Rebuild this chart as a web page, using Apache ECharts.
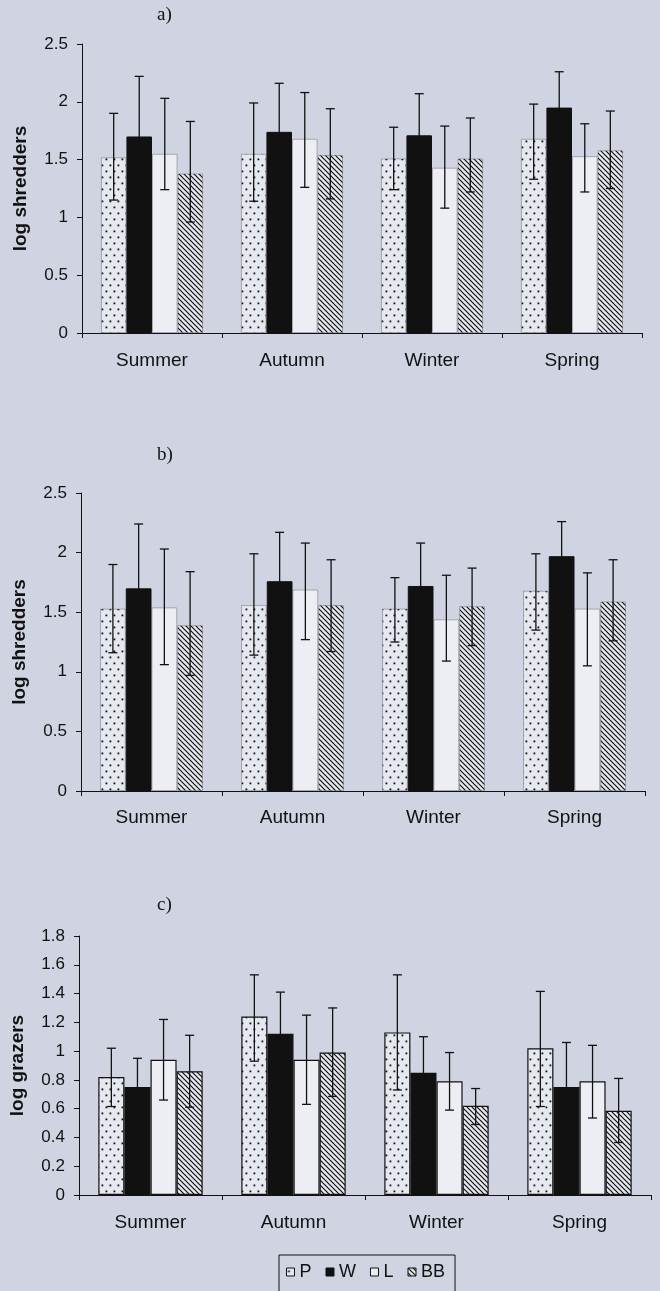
<!DOCTYPE html>
<html>
<head>
<meta charset="utf-8">
<script src="https://cdn.jsdelivr.net/npm/echarts@6/dist/echarts.min.js"></script>
<style>
html,body{margin:0;padding:0;background:#d0d4e2;}
#c{width:660px;height:1291px;}
</style>
</head>
<body>
<div id="c"></div>
<script>
// ---------- DATA ----------
const seasons = ['Summer', 'Autumn', 'Winter', 'Spring'];
const groups = ['P', 'W', 'L', 'BB'];
const panelTitles = ['a)', 'b)', 'c)'];
const yNames = ['log shredders', 'log shredders', 'log grazers'];

// panel a (log shredders)
const aP = [1.52, 1.55, 1.51, 1.68];
const aPHi = [1.90, 1.99, 1.78, 1.98];
const aPLo = [1.15, 1.14, 1.24, 1.33];
const aW = [1.70, 1.74, 1.71, 1.95];
const aWHi = [2.22, 2.16, 2.07, 2.26];
const aWLo = [1.18, 1.32, 1.35, 1.64];
const aL = [1.55, 1.68, 1.43, 1.53];
const aLHi = [2.03, 2.08, 1.79, 1.81];
const aLLo = [1.24, 1.26, 1.08, 1.22];
const aBB = [1.38, 1.54, 1.51, 1.58];
const aBBHi = [1.83, 1.94, 1.86, 1.92];
const aBBLo = [0.96, 1.16, 1.22, 1.25];

// panel b (log shredders)
const bP = [1.53, 1.56, 1.53, 1.68];
const bPHi = [1.90, 1.99, 1.79, 1.99];
const bPLo = [1.16, 1.14, 1.25, 1.35];
const bW = [1.70, 1.76, 1.72, 1.97];
const bWHi = [2.24, 2.17, 2.08, 2.26];
const bWLo = [1.16, 1.35, 1.36, 1.68];
const bL = [1.54, 1.69, 1.44, 1.53];
const bLHi = [2.03, 2.08, 1.81, 1.83];
const bLLo = [1.06, 1.27, 1.09, 1.05];
const bBB = [1.39, 1.56, 1.55, 1.59];
const bBBHi = [1.84, 1.94, 1.87, 1.94];
const bBBLo = [0.97, 1.17, 1.22, 1.26];

// panel c (log grazers)
const cP = [0.82, 1.24, 1.13, 1.02];
const cPHi = [1.02, 1.53, 1.53, 1.415];
const cPLo = [0.615, 0.93, 0.73, 0.615];
const cW = [0.75, 1.12, 0.85, 0.75];
const cWHi = [0.95, 1.41, 1.10, 1.06];
const cWLo = [0.55, 0.83, 0.60, 0.44];
const cL = [0.94, 0.94, 0.79, 0.79];
const cLHi = [1.22, 1.25, 0.99, 1.04];
const cLLo = [0.66, 0.63, 0.59, 0.535];
const cBB = [0.86, 0.99, 0.62, 0.585];
const cBBHi = [1.11, 1.30, 0.74, 0.81];
const cBBLo = [0.61, 0.685, 0.49, 0.365];

const yMax = [2.5, 2.5, 1.8];
const yStep = [0.5, 0.5, 0.2];

// ---------- STYLE / LAYOUT ----------
const BG = '#d0d4e2';
const INK = '#111111';
const GAP = 0.27;
const grids = [
  {left: 82, top: 44, width: 560, height: 289},
  {left: 81, top: 493, width: 564, height: 298},
  {left: 79, top: 936, width: 572, height: 259}
];

function dotPattern() {
  const cv = document.createElement('canvas');
  cv.width = 8; cv.height = 12;
  const g = cv.getContext('2d');
  g.fillStyle = '#e6e8ef'; g.fillRect(0, 0, 8, 12);
  g.fillStyle = '#111';
  g.fillRect(1.5, 2.5, 1.8, 1.8);
  g.fillRect(5.5, 8.5, 1.8, 1.8);
  return {image: cv, repeat: 'repeat'};
}
function hatchPattern() {
  const s = 5;
  const cv = document.createElement('canvas');
  cv.width = s; cv.height = s;
  const g = cv.getContext('2d');
  g.fillStyle = '#e6e8ef'; g.fillRect(0, 0, s, s);
  g.strokeStyle = '#111'; g.lineWidth = 1.2;
  g.beginPath();
  g.moveTo(-1, -1); g.lineTo(s + 1, s + 1);
  g.moveTo(-1, s - 1); g.lineTo(1, s + 1);
  g.moveTo(s - 1, -1); g.lineTo(s + 1, 1);
  g.stroke();
  return {image: cv, repeat: 'repeat'};
}
const fills = [dotPattern(), INK, '#eceef3', hatchPattern()];

const panels = [
  {m: [aP, aW, aL, aBB], hi: [aPHi, aWHi, aLHi, aBBHi], lo: [aPLo, aWLo, aLLo, aBBLo]},
  {m: [bP, bW, bL, bBB], hi: [bPHi, bWHi, bLHi, bBBHi], lo: [bPLo, bWLo, bLLo, bBBLo]},
  {m: [cP, cW, cL, cBB], hi: [cPHi, cWHi, cLHi, cBBHi], lo: [cPLo, cWLo, cLLo, cBBLo]}
];

const xAxes = [], yAxes = [], series = [], titles = [];
const titleTops = [6, 446, 896];
const labelMargins = [18, 17, 18];

panels.forEach((p, k) => {
  titles.push({
    text: panelTitles[k], left: 157, top: titleTops[k], padding: 0,
    textStyle: {fontFamily: 'Liberation Serif', fontSize: 19, fontWeight: 'normal', color: '#111'}
  });
  xAxes.push({
    type: 'category', gridIndex: k, data: seasons,
    axisLine: {lineStyle: {color: INK, width: 1}},
    axisTick: {show: true, length: 5, lineStyle: {color: INK}},
    axisLabel: {fontFamily: 'Liberation Sans', fontSize: 19, color: '#111', margin: labelMargins[k]}
  });
  yAxes.push({
    type: 'value', gridIndex: k, min: 0, max: yMax[k], interval: yStep[k],
    name: yNames[k], nameLocation: 'middle', nameGap: 52,
    nameTextStyle: {fontFamily: 'Liberation Sans', fontSize: 19, fontWeight: 'bold', color: '#111'},
    splitLine: {show: false},
    axisLine: {show: true, lineStyle: {color: INK, width: 1}},
    axisTick: {show: true, length: 5, lineStyle: {color: INK}},
    axisLabel: {fontFamily: 'Liberation Sans', fontSize: 17, color: '#111', margin: 14}
  });
  const bordered = k === 2;
  groups.forEach((name, s) => {
    series.push({
      type: 'bar', name: name, xAxisIndex: k, yAxisIndex: k,
      data: p.m[s], barGap: '0%', barCategoryGap: (GAP * 100) + '%',
      itemStyle: {
        color: fills[s],
        borderColor: bordered ? INK : (s === 1 ? INK : 'rgba(60,60,70,0.35)'),
        borderWidth: bordered ? 1.2 : 1
      },
      emphasis: {disabled: true}, z: 2
    });
  });
  const errData = [];
  groups.forEach((name, s) => {
    seasons.forEach((c, i) => errData.push([i, s, p.lo[s][i], p.hi[s][i]]));
  });
  series.push({
    type: 'custom', name: 'err' + k, xAxisIndex: k, yAxisIndex: k, z: 5,
    data: errData, encode: {x: 0, y: [2, 3]},
    renderItem: function (params, api) {
      const cat = api.value(0), s = api.value(1);
      const lo = api.coord([cat, api.value(2)]);
      const hi = api.coord([cat, api.value(3)]);
      const band = api.size([1, 0])[0];
      const bw = band * (1 - GAP) / 4;
      const x = lo[0] + (s - 1.5) * bw;
      const cap = 4.5;
      const st = {stroke: INK, lineWidth: 1.3};
      return {type: 'group', children: [
        {type: 'line', shape: {x1: x, y1: lo[1], x2: x, y2: hi[1]}, style: st},
        {type: 'line', shape: {x1: x - cap, y1: hi[1], x2: x + cap, y2: hi[1]}, style: st},
        {type: 'line', shape: {x1: x - cap, y1: lo[1], x2: x + cap, y2: lo[1]}, style: st}
      ]};
    }
  });
});

const chart = echarts.init(document.getElementById('c'), null, {renderer: 'canvas'});
chart.setOption({
  backgroundColor: BG,
  animation: false,
  title: titles,
  grid: grids,
  xAxis: xAxes,
  yAxis: yAxes,
  legend: {
    left: 279, top: 1255,
    data: groups.map((g, s) => ({name: g, itemStyle: {color: fills[s], borderColor: '#111', borderWidth: 1}})),
    icon: 'rect', itemWidth: 8, itemHeight: 8, itemGap: 14,
    padding: [8, 10, 12, 7],
    borderColor: '#111', borderWidth: 1, backgroundColor: BG,
    selectedMode: false,
    textStyle: {fontFamily: 'Liberation Sans', fontSize: 18, color: '#111'}
  },
  series: series
});
</script>
</body>
</html>
